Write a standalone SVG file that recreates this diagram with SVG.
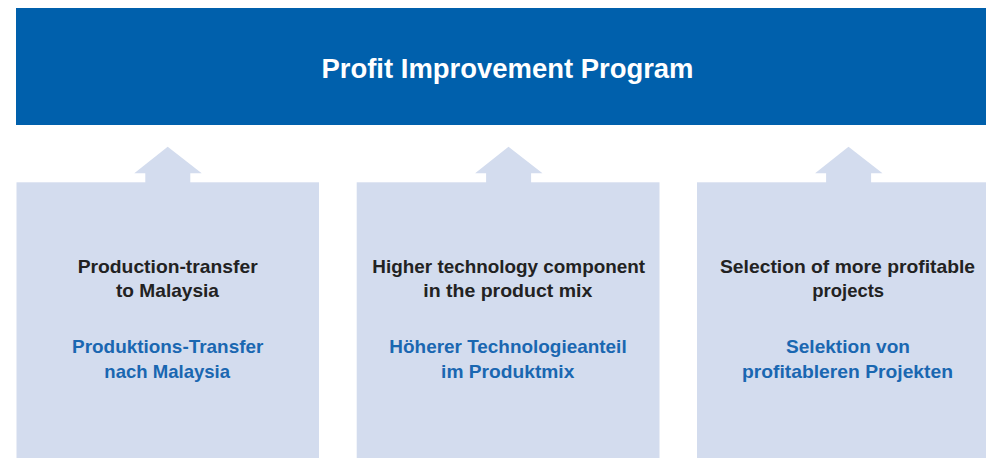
<svg xmlns="http://www.w3.org/2000/svg" width="986" height="458" viewBox="0 0 986 458">
<style>
.box{fill:#D3DCEE}
.arrow{fill:#D3DCEE}
.t{font-family:"Liberation Sans",Arial,sans-serif;font-weight:bold;font-size:19px;text-anchor:middle}
.en{fill:#222222}
.de{fill:#1A67B1}
.title{font-family:"Liberation Sans",Arial,sans-serif;font-weight:bold;font-size:27px;fill:#FFFFFF;text-anchor:middle}
</style>
<rect width="986" height="458" fill="#FFFFFF"/>
<g id="header">
<rect x="16" y="8" width="970" height="117" fill="#0060AC"/>
<text class="title" x="507.5" y="78.3" textLength="372" lengthAdjust="spacingAndGlyphs">Profit Improvement Program</text>
</g>
<g id="connectors">
<polygon class="arrow" points="167.7,146.7 201.7,173.3 190.3,173.3 190.3,183 145.3,183 145.3,173.3 134.3,173.3"/>
<polygon class="arrow" points="508.5,146.7 542.5,173.3 531.1,173.3 531.1,183 486.1,183 486.1,173.3 475.1,173.3"/>
<polygon class="arrow" points="848.5,146.7 882.5,173.3 871.1,173.3 871.1,183 826.1,183 826.1,173.3 815.1,173.3"/>
</g>
<g id="node1">
<rect class="box" x="16.5" y="182.3" width="302.5" height="275.7"/>
<text class="t en" x="167.7" y="272.7" textLength="180" lengthAdjust="spacingAndGlyphs">Production-transfer</text>
<text class="t en" x="167.5" y="297.3" textLength="103" lengthAdjust="spacingAndGlyphs">to Malaysia</text>
<text class="t de" x="167.7" y="353.3" textLength="191.3" lengthAdjust="spacingAndGlyphs">Produktions-Transfer</text>
<text class="t de" x="167.2" y="378.3" textLength="125.7" lengthAdjust="spacingAndGlyphs">nach Malaysia</text>
</g>
<g id="node2">
<rect class="box" x="356.7" y="182.3" width="302.8" height="275.7"/>
<text class="t en" x="508.7" y="272.7" textLength="272.7" lengthAdjust="spacingAndGlyphs">Higher technology component</text>
<text class="t en" x="507.8" y="297.3" textLength="169" lengthAdjust="spacingAndGlyphs">in the product mix</text>
<text class="t de" x="508" y="353.3" textLength="237.3" lengthAdjust="spacingAndGlyphs">Höherer Technologieanteil</text>
<text class="t de" x="507.7" y="378.3" textLength="133.3" lengthAdjust="spacingAndGlyphs">im Produktmix</text>
</g>
<g id="node3">
<rect class="box" x="697" y="182.3" width="289" height="275.7"/>
<text class="t en" x="847.5" y="272.7" textLength="255" lengthAdjust="spacingAndGlyphs">Selection of more profitable</text>
<text class="t en" x="848.2" y="297.3" textLength="71.7" lengthAdjust="spacingAndGlyphs">projects</text>
<text class="t de" x="848" y="353.3" textLength="124" lengthAdjust="spacingAndGlyphs">Selektion von</text>
<text class="t de" x="847.5" y="378.3" textLength="211" lengthAdjust="spacingAndGlyphs">profitableren Projekten</text>
</g>
</svg>
